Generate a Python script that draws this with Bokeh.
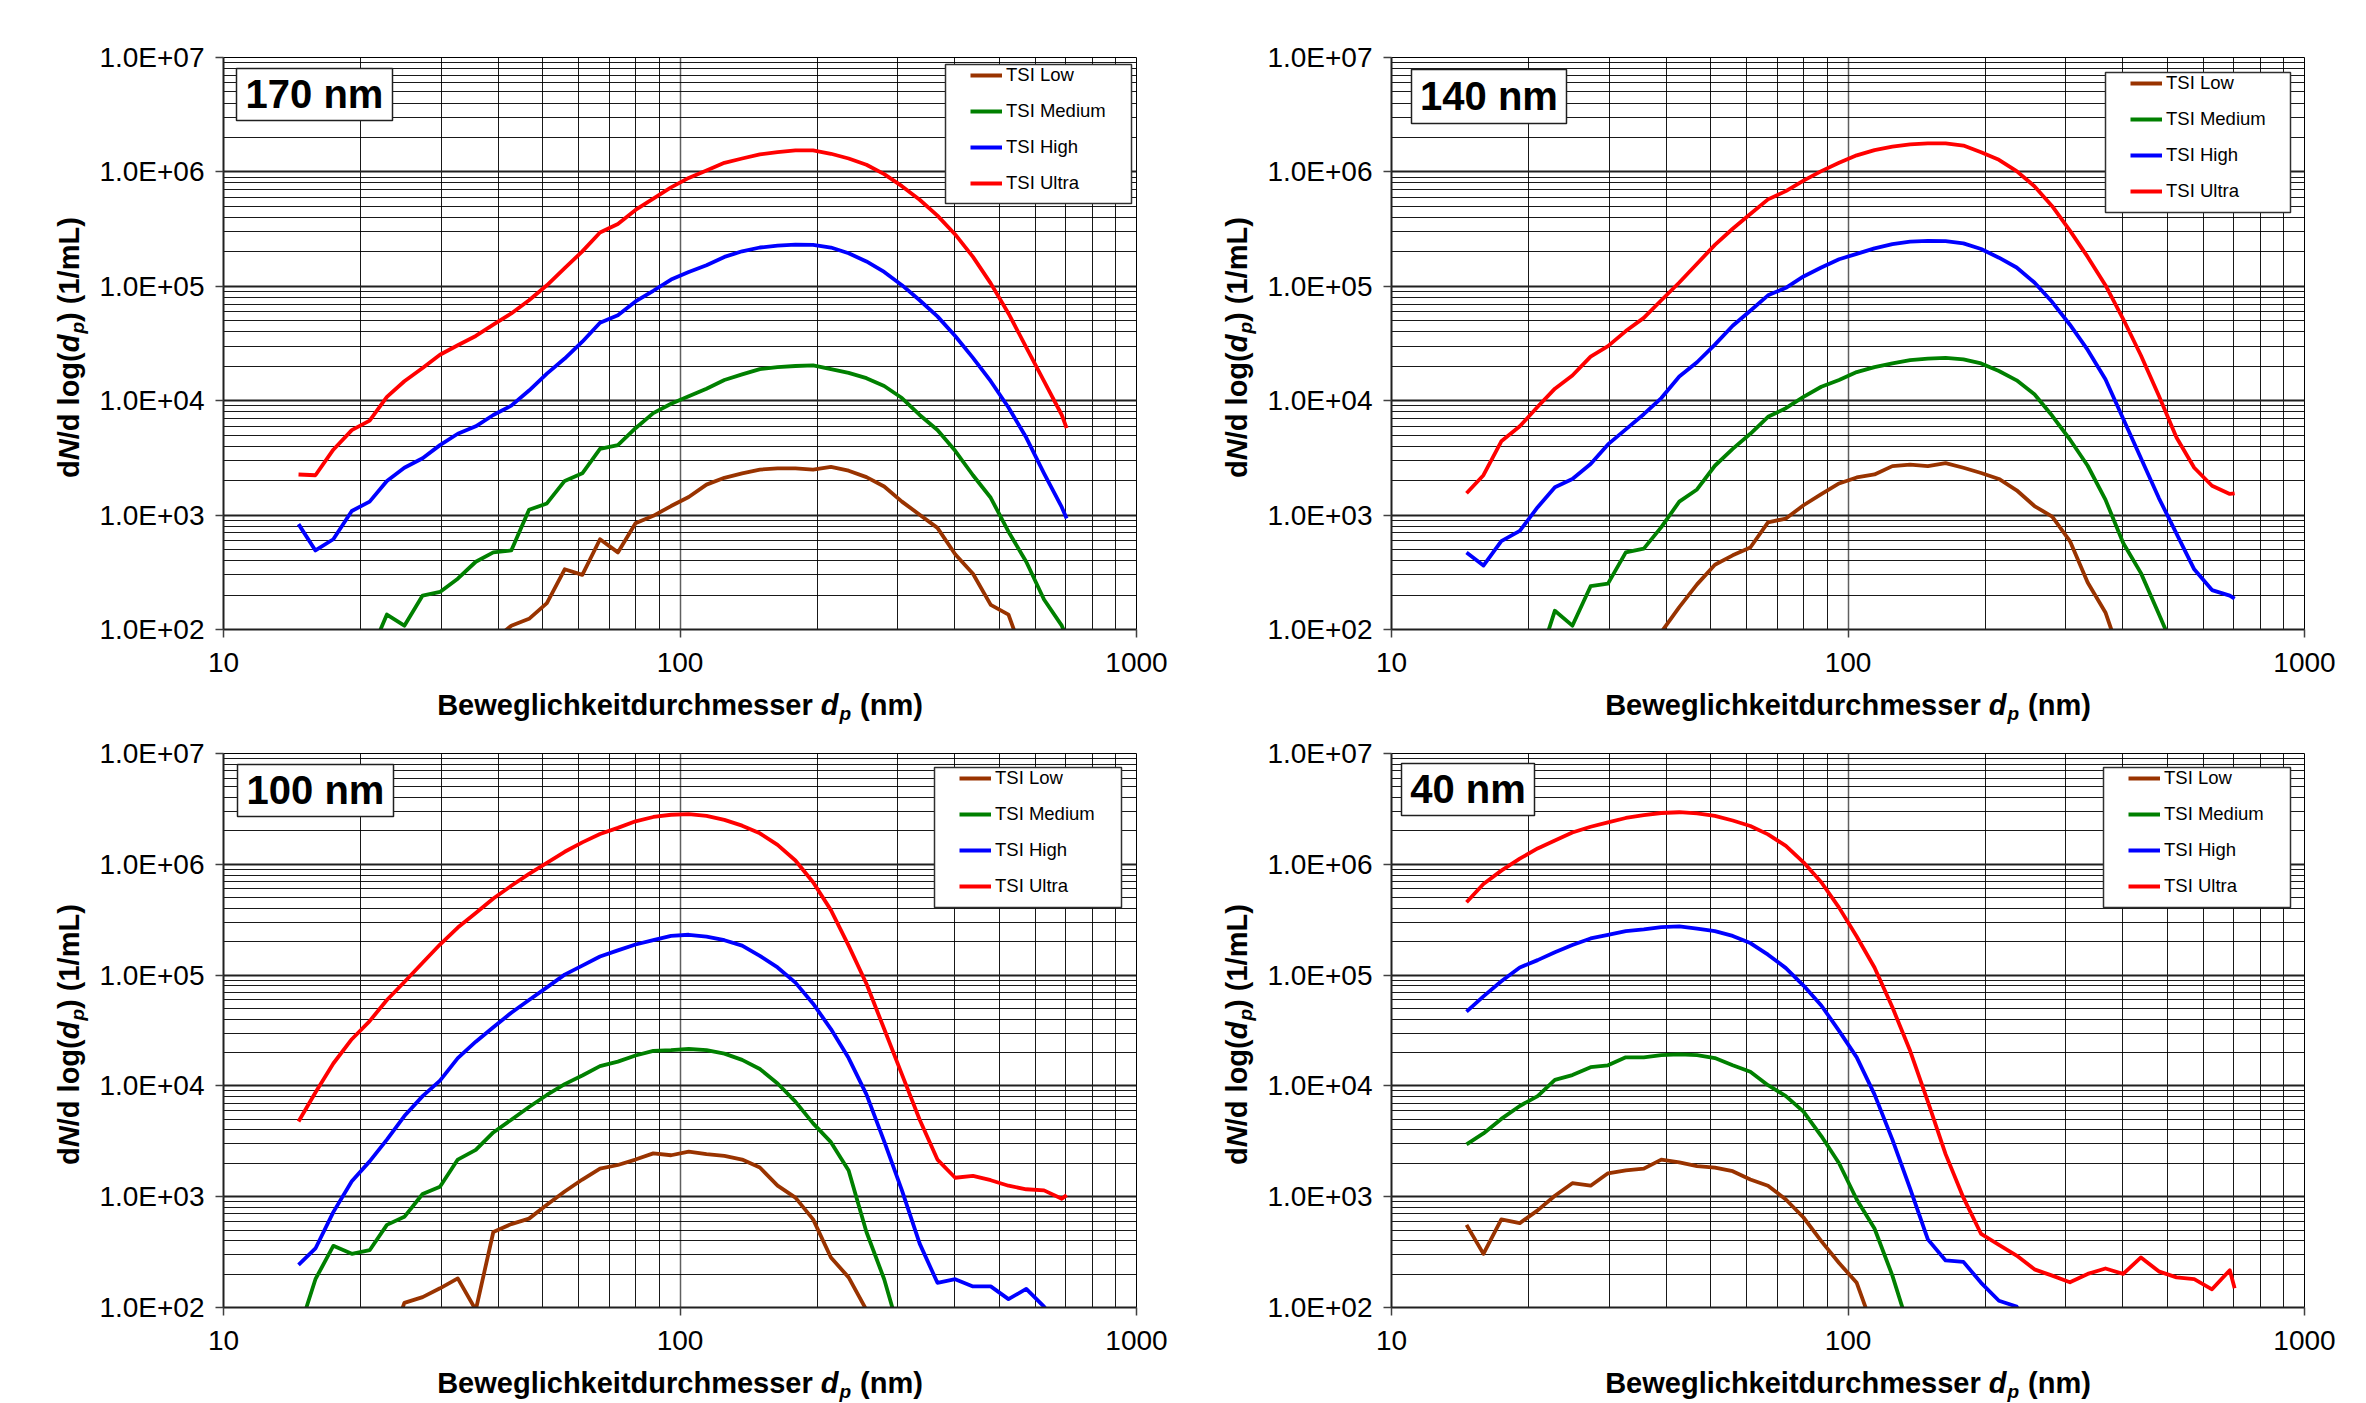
import math
from bokeh.plotting import figure
from bokeh.models import (Range1d, FixedTicker, CustomJSTickFormatter, Legend, LegendItem,
                          Label, BoxAnnotation)
from bokeh.layouts import row, column
from bokeh.embed import file_html
from bokeh.resources import INLINE

# ---------------- data ----------------
x_nm = [14.6, 15.9, 17.4, 19.1, 20.9, 22.8, 24.9, 27.3, 29.8, 32.6, 35.7, 39.0, 42.7, 46.7,
        51.1, 55.9, 61.1, 66.8, 73.1, 79.9, 87.4, 95.6, 104.5, 114.3, 125.1, 136.8, 149.6,
        163.6, 179.0, 195.7, 214.1, 234.1, 256.1, 280.1, 306.3, 335.0, 366.4, 400.7, 438.3,
        479.4, 524.3, 573.4, 627.2, 686.0, 703.0]

series_names = ["TSI Low", "TSI Medium", "TSI High", "TSI Ultra"]
series_colors = ["#993300", "#008000", "#0000FF", "#FF0000"]
panel_titles = ["170 nm", "140 nm", "100 nm", "40 nm"]

low_170 = [40, 40, 40, 40, 40, 40, 40, 40, 40, 40, 40, 80, 108, 124, 170, 336, 300, 615, 472,
           847, 985, 1200, 1440, 1846, 2118, 2317, 2500, 2560, 2560, 2500, 2636, 2443, 2148,
           1778, 1312, 1007, 773, 455, 307, 164, 135, 50, 40, 40, 40]
medium_170 = [50, 50, 50, 50, 60, 135, 108, 198, 213, 278, 391, 472, 491, 1112, 1265, 1990,
              2317, 3790, 4090, 5750, 7780, 9410, 10950, 12740, 15170, 17000, 18900, 19620,
              20100, 20400, 18900, 17500, 15740, 13430, 10550, 7500, 5540, 3650, 2230, 1417,
              716, 391, 183, 108, 86]
high_170 = [834, 491, 615, 1087, 1312, 1990, 2594, 3140, 4090, 5140, 5970, 7500, 9060, 12270,
            17260, 23350, 32800, 48000, 55800, 73800, 91400, 114600, 133400, 152800, 180600,
            202300, 218300, 226500, 231700, 230000, 218300, 194600, 164800, 133400, 102300,
            75500, 54600, 36800, 23700, 14800, 8730, 4760, 2317, 1172, 933]
ultra_170 = [2265, 2230, 3730, 5530, 6700, 10800, 14800, 19300, 25200, 30500, 36800, 46200,
             57900, 75500, 102000, 144000, 202000, 295000, 351000, 465000, 584000, 733000,
             886000, 1030000, 1200000, 1310000, 1420000, 1490000, 1540000, 1540000, 1440000,
             1310000, 1155000, 955000, 750000, 571000, 415000, 284000, 181000, 106000, 57900,
             29300, 14800, 7500, 5750]

low_140 = [40, 40, 40, 40, 40, 40, 40, 40, 40, 40, 40, 95, 157, 248, 368, 445, 521, 865, 933,
           1219, 1528, 1890, 2133, 2265, 2680, 2760, 2680, 2845, 2594, 2335, 2070, 1648, 1200,
           970, 593, 258, 141, 50, 40, 40, 40, 40, 40, 40, 40]
medium_140 = [50, 50, 50, 50, 50, 146, 108, 239, 252, 472, 509, 785, 1312, 1675, 2700, 3790,
              5140, 7230, 8600, 10790, 13240, 15170, 17780, 19630, 21170, 22650, 23350, 23700,
              23000, 21170, 18190, 15070, 11380, 7380, 4580, 2700, 1365, 571, 311, 137, 60, 40,
              40, 40, 40]
high_140 = [472, 362, 593, 728, 1172, 1750, 2070, 2800, 4150, 5620, 7620, 10550, 16250, 21680,
            30900, 45180, 61100, 83400, 97000, 121900, 145900, 172500, 191900, 214800, 233300,
            246000, 250000, 248000, 237100, 211800, 177800, 145900, 107900, 72780, 46160, 27800,
            15390, 6950, 3140, 1416, 690, 336, 221, 198, 186]
ultra_140 = [1552, 2233, 4415, 5970, 8850, 12740, 16600, 24270, 30000, 40600, 52960, 75500,
             107900, 157400, 230100, 318500, 428500, 575400, 679200, 839500, 1016000, 1200000,
             1396000, 1552000, 1660000, 1738000, 1778000, 1778000, 1700000, 1483000, 1274000,
             1016000, 750000, 502000, 306900, 180600, 102300, 51760, 24830, 11120, 4760, 2594,
             1806, 1530, 1552]

low_100 = [40, 40, 40, 40, 40, 40, 110, 124, 149, 183, 95, 480, 566, 634, 844, 1114, 1429, 1791,
           1932, 2163, 2460, 2366, 2553, 2421, 2334, 2163, 1833, 1257, 980, 624, 283, 187, 95,
           50, 40, 40, 40, 40, 40, 40, 40, 40, 40, 40, 40]
medium_100 = [60, 180, 360, 305, 329, 557, 658, 1057, 1230, 2163, 2650, 3800, 4955, 6450, 8280,
              10370, 12420, 15100, 16550, 18800, 20740, 21040, 21530, 21040, 19540, 17180,
              14220, 10520, 7220, 4590, 3105, 1726, 480, 180, 50, 40, 40, 40, 40, 40, 40, 40,
              40, 40, 40]
high_100 = [243, 341, 726, 1377, 2084, 3273, 5346, 8090, 11170, 17820, 25060, 33840, 45710,
            59570, 77450, 100900, 121800, 147200, 167200, 188800, 206500, 225900, 231200,
            222800, 206500, 184500, 149300, 117200, 85500, 55200, 32600, 17820, 8390, 3155,
            1140, 377, 167, 180, 155, 155, 119, 147, 102, 60, 60]
ultra_100 = [4775, 8710, 15920, 26380, 38460, 59570, 86700, 129400, 188800, 268500, 363100,
             491000, 639700, 820400, 1028000, 1297000, 1578000, 1879000, 2133000, 2443000,
             2673000, 2800000, 2842000, 2735000, 2518000, 2233000, 1905000, 1496000, 1083000,
             689000, 385700, 184500, 83600, 32600, 12710, 4955, 2163, 1483, 1542, 1409, 1257,
             1167, 1140, 959, 1033]

low_40 = [557, 305, 624, 578, 753, 1019, 1324, 1257, 1626, 1726, 1791, 2163, 2037, 1888, 1833,
          1700, 1429, 1257, 944, 649, 397, 252, 167, 60, 50, 50, 60, 40, 40, 40, 40, 40, 40, 40,
          40, 40, 40, 40, 40, 40, 40, 40, 40, 40, 40]
medium_40 = [2972, 3724, 5035, 6590, 8090, 11350, 12530, 14770, 15350, 18110, 18110, 18920,
             19230, 18920, 17820, 15350, 13400, 10140, 8090, 5850, 3530, 2005, 944, 516, 194,
             60, 40, 40, 40, 40, 40, 40, 40, 40, 40, 40, 40, 40, 40, 40, 40, 40, 40, 40, 40]
high_40 = [46770, 64270, 88100, 117200, 136500, 161100, 187100, 214300, 231200, 249400, 258800,
           271000, 274800, 262500, 249400, 225900, 194500, 152800, 115600, 80500, 53200, 31400,
           18110, 8390, 3273, 1183, 412, 266, 258, 167, 115, 102, 50, 40, 40, 40, 40, 40, 40,
           40, 40, 40, 40, 40, 40]
ultra_40 = [455000, 663700, 877000, 1125000, 1390000, 1641000, 1936000, 2183000, 2388000,
            2618000, 2780000, 2904000, 2951000, 2884000, 2735000, 2483000, 2218000, 1862000,
            1465000, 1042000, 689000, 406500, 222800, 117200, 51170, 20740, 7220, 2421, 980,
            461, 368, 294, 221, 194, 169, 201, 225, 201, 283, 212, 187, 180, 146, 217, 149]

x_ticks = [10, 100, 1000]
x_tick_labels = ["10", "100", "1000"]
y_ticks = [100, 1000, 10000, 100000, 1000000, 10000000]
y_tick_labels = ["1.0E+02", "1.0E+03", "1.0E+04", "1.0E+05", "1.0E+06", "1.0E+07"]
x_minor = [m * 10 ** e for e in (1, 2) for m in range(2, 10)]
y_minor = [m * 10 ** e for e in range(2, 7) for m in range(2, 10)]

# ---------------- layout constants ----------------
FONT = "Liberation Sans"
FW = 913          # frame width
YSTRIP_W = 90     # strip holding the rotated y title
B_LEFT = 133
B_RIGHT = 32
B_BOTTOM = 57
XSTRIP_H = 38

# Liberation Sans (Arial metrics) bold advance widths, 1/1000 em
AW = {' ': 278, '(': 333, ')': 333, '/': 278, '1': 556, 'B': 722, 'L': 611, 'N': 722,
      'c': 556, 'd': 611, 'e': 556, 'g': 611, 'h': 611, 'i': 278, 'k': 556, 'l': 278,
      'm': 889, 'n': 611, 'o': 611, 'p': 611, 'r': 389, 's': 556, 't': 333, 'u': 611, 'w': 778}


def tw(s, size):
    return sum(AW.get(c, 556) for c in s) * size / 1000.0


def add_pieces(p, pieces, cx, cy, vertical):
    # piece = (text, style, size, downward shift, gap before)
    total = sum(tw(t, sz) + gap for t, st, sz, sh, gap in pieces)
    pos = (cy if vertical else cx) - total / 2.0
    for t, st, sz, sh, gap in pieces:
        pos += gap
        if vertical:
            x, y, ang = cx + sh, pos, math.pi / 2
        else:
            x, y, ang = pos, cy - sh, 0
        p.add_layout(Label(x=x, y=y, x_units="screen", y_units="screen", text=t, angle=ang,
                           text_font=FONT, text_font_style=st, text_font_size=f"{sz}px",
                           text_color="black", text_align="left", text_baseline="middle"))
        pos += tw(t, sz)


def strip(w, h):
    s = figure(width=w, height=h, x_range=Range1d(0, 1), y_range=Range1d(0, 1),
               x_axis_location=None, y_axis_location=None, min_border=0,
               min_border_left=0, min_border_right=0, min_border_top=0, min_border_bottom=0,
               output_backend="svg", toolbar_location=None,
               background_fill_color="white", border_fill_color="white")
    s.grid.visible = False
    s.outline_line_color = None
    return s


X_TITLE = [("Beweglichkeitdurchmesser", "bold", 29, 0, 0), ("d", "bold italic", 29, 0, 8),
           ("p", "bold italic", 19, 9, 1), ("(nm)", "bold", 29, 0, 9)]
Y_TITLE = [("d", "bold", 29, 0, 0), ("N", "bold italic", 29, 0, 0), ("/d log(", "bold", 29, 0, 0),
           ("d", "bold italic", 29, 0, 0), ("p", "bold italic", 19, 9, 1),
           (")  (1/mL)", "bold", 29, 0, 0)]


def make_panel(title, values, frame_h, b_top, legend_box, title_box):
    p = figure(x_axis_type="log", y_axis_type="log",
               x_range=Range1d(10, 1000), y_range=Range1d(100, 10000000),
               frame_width=FW, frame_height=frame_h,
               min_border_left=B_LEFT, min_border_right=B_RIGHT,
               min_border_top=b_top, min_border_bottom=B_BOTTOM,
               output_backend="svg", toolbar_location=None,
               background_fill_color="white", border_fill_color="white")
    p.outline_line_color = "black"
    p.outline_line_width = 1

    p.xaxis.ticker = FixedTicker(ticks=x_ticks, minor_ticks=x_minor)
    p.yaxis.ticker = FixedTicker(ticks=y_ticks, minor_ticks=y_minor)
    fmt = "const i = v.indexOf(tick); return i < 0 ? '' : t[i];"
    p.xaxis.formatter = CustomJSTickFormatter(args=dict(v=x_ticks, t=x_tick_labels), code=fmt)
    p.yaxis.formatter = CustomJSTickFormatter(args=dict(v=y_ticks, t=y_tick_labels), code=fmt)

    for ax in (p.xaxis, p.yaxis):
        ax.axis_line_color = "#202020"
        ax.axis_line_width = 2
        ax.major_tick_out = 8
        ax.major_tick_in = 0
        ax.major_tick_line_color = "#404040"
        ax.major_tick_line_width = 1.5
        ax.minor_tick_line_color = None
        ax.major_label_text_font = FONT
        ax.major_label_text_font_size = "28px"
        ax.major_label_text_color = "black"
    p.xaxis.major_label_standoff = 15
    p.yaxis.major_label_standoff = 11

    p.xgrid.grid_line_color = "#606060"
    p.xgrid.grid_line_width = 1.5
    p.ygrid.grid_line_color = "#202020"
    p.ygrid.grid_line_width = 2
    for g in (p.xgrid, p.ygrid):
        g.minor_grid_line_color = "black"
        g.minor_grid_line_width = 1
        g.minor_grid_line_alpha = 0.9

    items = []
    for name, color, vals in zip(series_names, series_colors, values):
        r = p.line(x_nm, vals, line_color=color, line_width=3.8, line_join="round")
        items.append(LegendItem(label=name, renderers=[r]))

    # legend frame + borderless legend inside it
    bl, bt, bw, bh = legend_box
    p.add_layout(BoxAnnotation(left=bl, right=bl + bw, top=frame_h - bt, bottom=frame_h - bt - bh,
                               left_units="screen", right_units="screen",
                               top_units="screen", bottom_units="screen",
                               fill_color="white", fill_alpha=1.0,
                               line_color="#303030", line_width=1.5, line_alpha=1.0))
    leg_h = 4 * 20 + 3 * 14
    legend = Legend(items=items, location=(bl + 25, frame_h - bt - 8 - leg_h),
                    orientation="vertical", padding=0, margin=0, spacing=14,
                    glyph_width=32, glyph_height=20, label_height=20, label_standoff=4,
                    label_text_font=FONT, label_text_font_size="18.5px",
                    label_text_color="black",
                    border_line_alpha=0, background_fill_alpha=0)
    p.add_layout(legend)

    # panel title box
    tl, tt, tbw, tbh = title_box
    p.add_layout(BoxAnnotation(left=tl, right=tl + tbw, top=frame_h - tt, bottom=frame_h - tt - tbh,
                               left_units="screen", right_units="screen",
                               top_units="screen", bottom_units="screen",
                               fill_color="white", fill_alpha=1.0,
                               line_color="#202020", line_width=1.5, line_alpha=1.0))
    p.add_layout(Label(x=tl + tbw / 2.0, y=frame_h - tt - tbh / 2.0 + 1,
                       x_units="screen", y_units="screen", text=title,
                       text_font=FONT, text_font_style="bold", text_font_size="40px",
                       text_color="black", text_align="center", text_baseline="middle"))

    main_h = b_top + frame_h + B_BOTTOM
    main_w = B_LEFT + FW + B_RIGHT

    ys = strip(YSTRIP_W, main_h)
    add_pieces(ys, Y_TITLE, 68, main_h - (b_top + frame_h / 2.0), vertical=True)

    # the strip below shares the frame alignment of the plot above it in the column,
    # so its screen x origin coincides with the plot frame's left edge
    xs = strip(main_w, XSTRIP_H)
    add_pieces(xs, X_TITLE, FW / 2.0, XSTRIP_H - 18, vertical=False)

    return row(ys, column(p, xs))


panel_values = [
    [low_170, medium_170, high_170, ultra_170],
    [low_140, medium_140, high_140, ultra_140],
    [low_100, medium_100, high_100, ultra_100],
    [low_40, medium_40, high_40, ultra_40],
]
legend_boxes = [(722, 7, 186, 139), (714, 15, 185, 140), (711, 14, 187, 140), (712, 14, 187, 140)]
title_boxes = [(13, 11, 156, 52), (20, 12, 155, 54), (14, 11, 156, 52), (10, 10, 133, 52)]

panels = []
for i in range(4):
    top_row = i < 2
    panels.append(make_panel(panel_titles[i], panel_values[i],
                             frame_h=572 if top_row else 554,
                             b_top=57 if top_row else 29,
                             legend_box=legend_boxes[i], title_box=title_boxes[i]))

layout = column(row(panels[0], panels[1]), row(panels[2], panels[3]))
open("out.html", "w").write(file_html(layout, INLINE, title="TSI size distributions"))
